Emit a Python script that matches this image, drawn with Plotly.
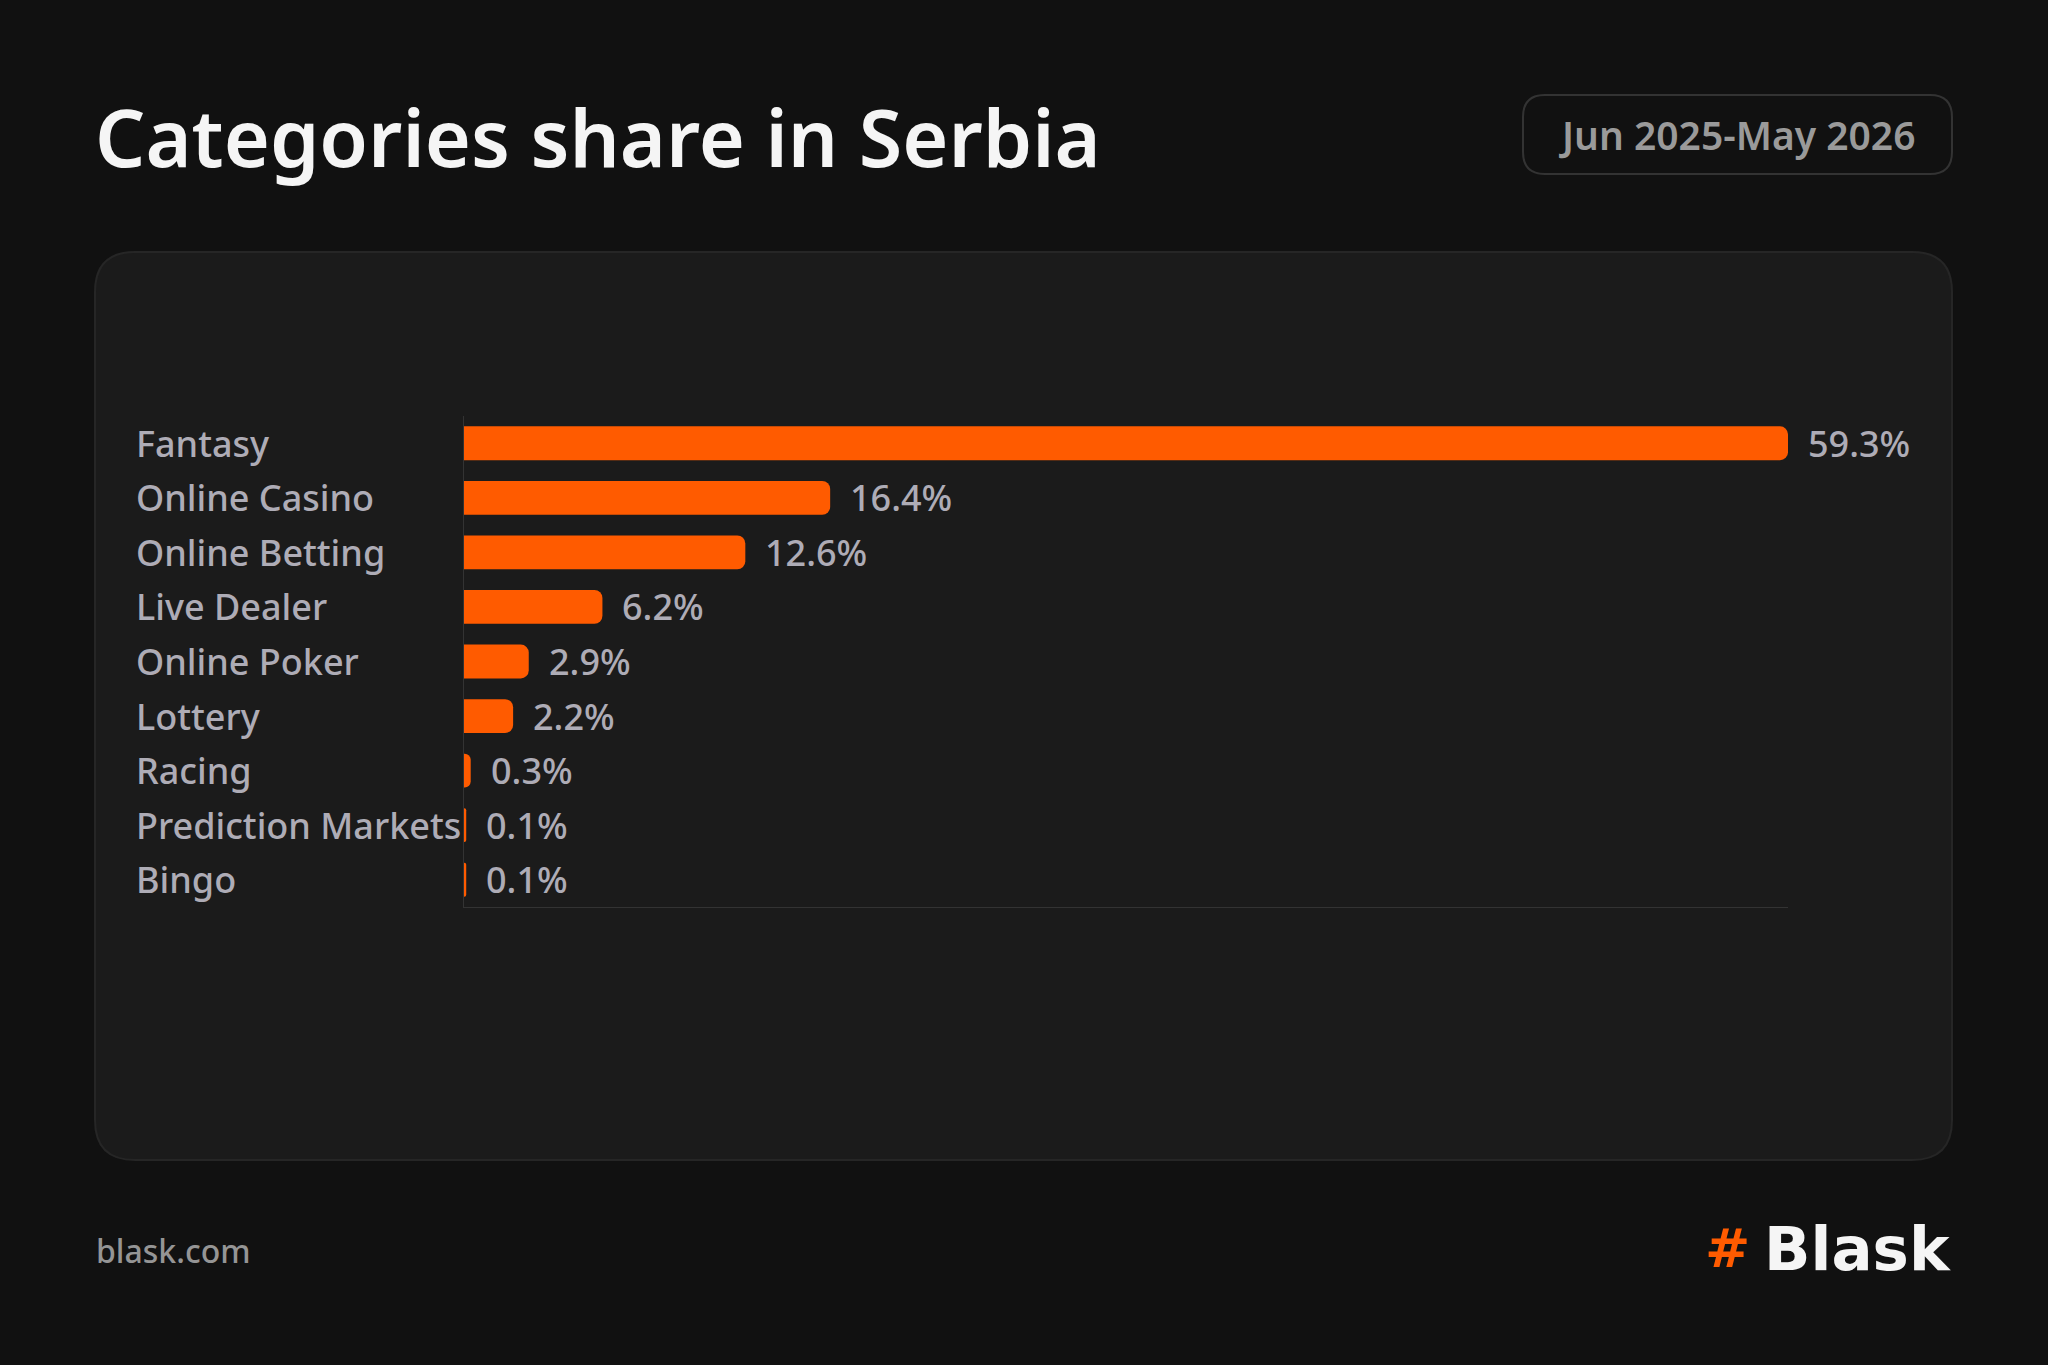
import plotly.graph_objects as go

#### data
categories = ['Fantasy', 'Online Casino', 'Online Betting', 'Live Dealer', 'Online Poker',
              'Lottery', 'Racing', 'Prediction Markets', 'Bingo']
shares = [59.3, 16.4, 12.6, 6.2, 2.9, 2.2, 0.3, 0.1, 0.1]
title_text = 'Categories share in Serbia'
period_text = 'Jun 2025-May 2026'
footer_text = 'blask.com'

#### page geometry (pixels)
fig_w, fig_h = 2048, 1365
plot_l, plot_r, plot_t, plot_b = 464, 1788, 416, 907
plot_w = plot_r - plot_l
plot_h = plot_b - plot_t

bg_color = '#111111'
panel_color = '#1b1b1b'
bar_color = '#ff5b00'
label_color = '#aeacb6'
font_name = 'Noto Sans'


def px_x(p):
    return (p - plot_l) / plot_w


def px_y(p):
    return (plot_b - p) / plot_h


def rounded_rect(x0, y0, x1, y1, r):
    # build svg path in paper units from pixel corners
    pts = [
        ('M', [(x0 + r, y0)]), ('L', [(x1 - r, y0)]), ('Q', [(x1, y0), (x1, y0 + r)]),
        ('L', [(x1, y1 - r)]), ('Q', [(x1, y1), (x1 - r, y1)]),
        ('L', [(x0 + r, y1)]), ('Q', [(x0, y1), (x0, y1 - r)]),
        ('L', [(x0, y0 + r)]), ('Q', [(x0, y0), (x0 + r, y0)]),
    ]
    path = ''
    for cmd, coords in pts:
        path += cmd + ' ' + ' '.join('%.5f,%.5f' % (px_x(a), px_y(b)) for a, b in coords) + ' '
    return path + 'Z'


fig = go.Figure()

fig.add_trace(go.Bar(
    x=shares,
    y=categories,
    orientation='h',
    marker_color=bar_color,
    marker_line_width=0,
    marker_cornerradius=8,
    width=0.62,
    showlegend=False,
    hoverinfo='skip'
))

# category labels, left aligned
for c in categories:
    fig.add_annotation(
        x=px_x(134), xref='paper', y=c, yref='y',
        text=c, showarrow=False, xanchor='left', yanchor='middle',
        font=dict(family=font_name, size=36, color=label_color, weight=500)
    )

# value labels
for c, v in zip(categories, shares):
    fig.add_annotation(
        x=v, xref='x', y=c, yref='y',
        text='%.1f%%' % v, showarrow=False, xanchor='left', yanchor='middle',
        xshift=18,
        font=dict(family=font_name, size=36, color=label_color, weight=500)
    )

# title, period, footer, logo
fig.add_annotation(
    x=px_x(93), y=px_y(136), xref='paper', yref='paper',
    text=title_text, showarrow=False, xanchor='left', yanchor='middle',
    font=dict(family=font_name, size=79, color='#f5f5f5', weight=600)
)
fig.add_annotation(
    x=px_x(1737), y=px_y(134), xref='paper', yref='paper',
    text=period_text, showarrow=False, xanchor='center', yanchor='middle',
    font=dict(family=font_name, size=39, color='#9a9a9a', weight=600)
)
fig.add_annotation(
    x=px_x(94), y=px_y(1250), xref='paper', yref='paper',
    text=footer_text, showarrow=False, xanchor='left', yanchor='middle',
    font=dict(family=font_name, size=32, color='#959595', weight=500)
)
fig.add_annotation(
    x=px_x(1703), y=px_y(1248), xref='paper', yref='paper',
    text='#', showarrow=False, xanchor='left', yanchor='middle',
    font=dict(family='DejaVu Sans', size=54, color=bar_color, weight=800)
)
fig.add_annotation(
    x=px_x(1953), y=px_y(1248), xref='paper', yref='paper',
    text='Blask', showarrow=False, xanchor='right', yanchor='middle',
    font=dict(family='DejaVu Sans', size=61, color='#f5f5f5', weight=800)
)

# panel and period box
fig.add_shape(
    type='path', xref='paper', yref='paper', layer='below',
    path=rounded_rect(95, 252, 1952, 1160, 40),
    fillcolor=panel_color, line=dict(color='#262626', width=2)
)
fig.add_shape(
    type='path', xref='paper', yref='paper', layer='below',
    path=rounded_rect(1523, 95, 1952, 174, 22),
    fillcolor=bg_color, line=dict(color='#333333', width=2)
)

fig.update_xaxes(range=[0, max(shares)], showgrid=False, zeroline=False,
                 showticklabels=False, ticks='', showline=True, linecolor='#333333', linewidth=1)
fig.update_yaxes(categoryorder='array', categoryarray=categories, autorange='reversed',
                 showgrid=False, zeroline=False, showticklabels=False, ticks='',
                 showline=True, linecolor='#333333', linewidth=1)
fig.update_layout(
    width=fig_w, height=fig_h,
    margin=dict(l=plot_l, r=fig_w - plot_r, t=plot_t, b=fig_h - plot_b),
    paper_bgcolor=bg_color, plot_bgcolor='rgba(0,0,0,0)',
    font=dict(family=font_name)
)

fig.write_html('out.html', config={'displayModeBar': False},
               post_script="document.body.style.margin='0';document.body.style.background='%s';" % bg_color)
